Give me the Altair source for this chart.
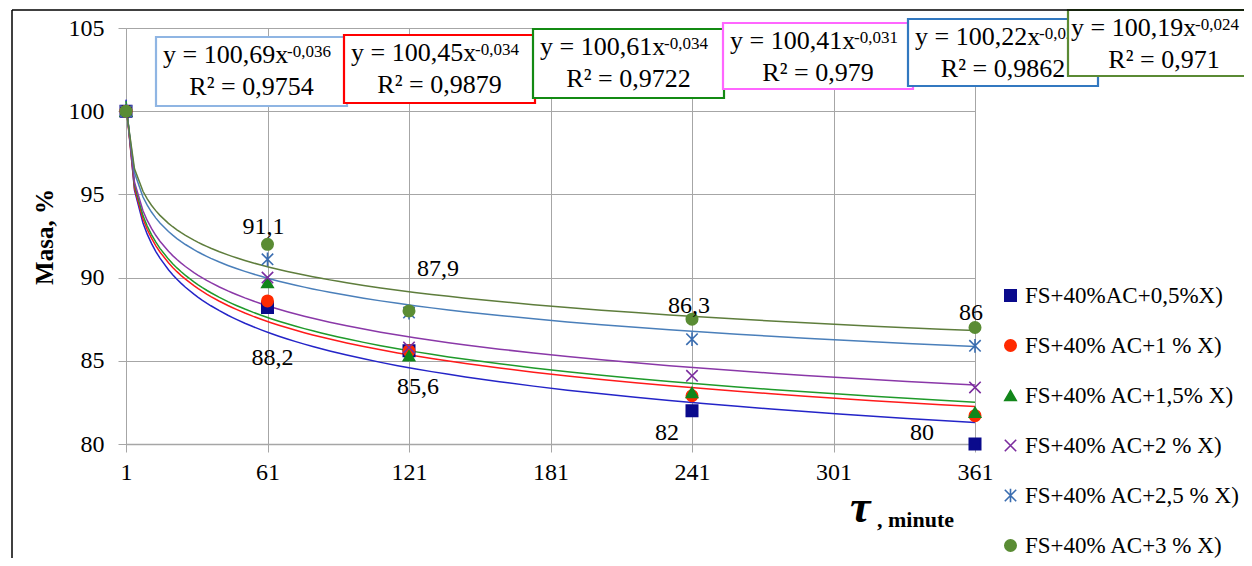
import altair as alt
import pandas as pd

# ---------------- data ----------------
series = ["FS+40%AC+0,5%X)", "FS+40% AC+1 % X)", "FS+40% AC+1,5% X)",
          "FS+40% AC+2 % X)", "FS+40% AC+2,5 % X)", "FS+40% AC+3 % X)"]
tau = [1, 61, 121, 241, 361]
mass_05 = [100, 88.2, 85.6, 82.0, 80.0]
mass_10 = [100, 88.6, 85.6, 82.9, 81.7]
mass_15 = [100, 89.7, 85.3, 83.1, 81.9]
mass_20 = [100, 90.0, 85.8, 84.1, 83.4]
mass_25 = [100, 91.1, 87.9, 86.3, 85.9]
mass_30 = [100, 92.0, 88.0, 87.5, 87.0]

x_ticks = [1, 61, 121, 181, 241, 301, 361]
y_ticks = [80, 85, 90, 95, 100, 105]

# data labels (value shown, anchored at a point)
label_tau = [61, 121, 241, 361, 61, 121, 241, 361]
label_mass = [91.1, 87.9, 86.3, 85.9, 88.2, 85.6, 82.0, 80.0]
label_text = ["91,1", "87,9", "86,3", "86", "88,2", "85,6", "82", "80"]

# trendline equations shown in boxes
eq_coef = ["100,69", "100,45", "100,61", "100,41", "100,22", "100,19"]
eq_exp = ["-0,036", "-0,034", "-0,034", "-0,031", "-0,026", "-0,024"]
eq_r2 = ["0,9754", "0,9879", "0,9722", "0,979", "0,9862", "0,971"]

# ---------------- styling ----------------
FONT = "Liberation Serif"
marker_colors = ["#0a0a8c", "#ff2a00", "#12861a", "#7b2c9e", "#3a6db0", "#5a8c34"]
line_colors = ["#2424c8", "#ff1a1a", "#1f9a2a", "#8a38a8", "#4a7fba", "#5e7d3c"]
shapes = ["square", "circle", "triangle-up",
          "M-1,-1L1,1M-1,1L1,-1",
          "M-1,-1L1,1M-1,1L1,-1M0,-1.2L0,1.2",
          "circle"]
box_colors = ["#8fb5e3", "#ff0000", "#138a13", "#ff66ff", "#3278c0", "#5a8a34"]
# box geometry in plot-area pixels (left, top, right, bottom)
box_geom = [(30, 9, 221, 78), (218, 7, 409, 75), (407, 1, 598, 70),
            (597, -5, 787, 61), (782, -9, 972, 58), (942, -18, 1134, 48)]
box_text_shift = [0, 0, 0, 0, 0, -4]
label_off = [(-4, -32), (29, -44), (-3, -33), (-4, -33),
             (5, 50), (9, 36), (-25, 22), (-53, -11)]

# ---------------- tables ----------------
all_mass = [mass_05, mass_10, mass_15, mass_20, mass_25, mass_30]
rows = []
for s, m in zip(series, all_mass):
    for t, v in zip(tau, m):
        rows.append({"series": s, "tau": t, "mass": v})
df = pd.DataFrame(rows)
one = pd.DataFrame({"k": [0]})

W, H = 849, 416
xscale = alt.Scale(domain=[1, 361], nice=False, zero=False)
yscale = alt.Scale(domain=[80, 105], nice=False, zero=False)

grid_col = "#a6a6a6"
xaxis = alt.Axis(values=x_ticks, title=None, grid=True, gridColor=grid_col,
                 domainColor=grid_col, domainWidth=1.5, tickColor=grid_col, tickSize=8,
                 labelFont=FONT, labelFontSize=24, labelColor="black",
                 labelPadding=8, labelFlush=False)
yaxis = alt.Axis(values=y_ticks, title=None, grid=True, gridColor=grid_col,
                 domainColor=grid_col, tickColor=grid_col, tickSize=8,
                 labelFont=FONT, labelFontSize=24, labelColor="black",
                 labelPadding=14)

X = alt.X("tau:Q", scale=xscale, axis=xaxis)
Y = alt.Y("mass:Q", scale=yscale, axis=yaxis)

trend = alt.Chart(df).transform_regression(
    "tau", "mass", method="pow", groupby=["series"]
).mark_line(strokeWidth=1.5).encode(
    x=alt.X("tau:Q", scale=xscale, axis=xaxis),
    y=alt.Y("mass:Q", scale=yscale, axis=yaxis),
    color=alt.Color("series:N", scale=alt.Scale(domain=series, range=line_colors), legend=None),
    detail="series:N",
)

leg = alt.Legend(title=None, orient="none", legendX=873, legendY=256,
                 labelFont=FONT, labelFontSize=23, labelColor="black",
                 symbolSize=130, symbolStrokeWidth=1.6, rowPadding=26,
                 labelOffset=3, labelLimit=400)
points = alt.Chart(df).mark_point(filled=True, strokeWidth=1.6, size=130, opacity=1).encode(
    x=X, y=Y,
    shape=alt.Shape("series:N", scale=alt.Scale(domain=series, range=shapes), legend=leg),
    fill=alt.Fill("series:N", scale=alt.Scale(domain=series, range=marker_colors), legend=leg),
    stroke=alt.Stroke("series:N", scale=alt.Scale(domain=series, range=marker_colors), legend=leg),
)

layers = [trend, points]

for t, v, txt, (dx, dy) in zip(label_tau, label_mass, label_text, label_off):
    ldf = pd.DataFrame({"tau": [t], "mass": [v], "txt": [txt]})
    layers.append(alt.Chart(ldf).mark_text(
        font=FONT, fontSize=24, color="black", dx=dx, dy=dy,
        align="center", baseline="middle").encode(x=X, y=Y, text="txt:N"))

# equation boxes
for i in range(6):
    l, t, r, b = box_geom[i]
    s = box_text_shift[i]
    layers.append(alt.Chart(one).mark_rect(fill="white", stroke=box_colors[i], strokeWidth=2.2).encode(
        x=alt.value(l), x2=alt.value(r), y=alt.value(t), y2=alt.value(b)))
    layers.append(alt.Chart(one).mark_text(
        text="y = " + eq_coef[i] + "x", font=FONT, fontSize=26, color="black",
        align="left", baseline="alphabetic").encode(x=alt.value(l + 7 + s), y=alt.value(t + 26)))
    layers.append(alt.Chart(one).mark_text(
        text=eq_exp[i], font=FONT, fontSize=17, color="black",
        align="left", baseline="alphabetic").encode(x=alt.value(l + 131 + s), y=alt.value(t + 20)))
    layers.append(alt.Chart(one).mark_text(
        text="R² = " + eq_r2[i], font=FONT, fontSize=26, color="black",
        align="center", baseline="alphabetic").encode(x=alt.value((l + r) / 2), y=alt.value(t + 58)))

# axis titles
layers.append(alt.Chart(one).mark_text(
    text="Masa, %", font=FONT, fontSize=25, fontWeight="bold", color="black",
    angle=270, align="center", baseline="middle").encode(x=alt.value(-81), y=alt.value(209)))
layers.append(alt.Chart(one).mark_text(
    text="τ", font=FONT, fontSize=46, fontWeight="bold", fontStyle="italic", color="black",
    align="left", baseline="alphabetic").encode(x=alt.value(724), y=alt.value(494)))
layers.append(alt.Chart(one).mark_text(
    text=", minute", font=FONT, fontSize=22, fontWeight="bold", color="black",
    align="left", baseline="alphabetic").encode(x=alt.value(751), y=alt.value(499)))

# outer chart frame (left and top edges)
layers.append(alt.Chart(one).mark_rule(color="black", strokeWidth=1.5).encode(
    x=alt.value(-114), y=alt.value(-18), y2=alt.value(540)))
layers.append(alt.Chart(one).mark_rule(color="black", strokeWidth=1.5).encode(
    x=alt.value(-114), x2=alt.value(1130), y=alt.value(-18)))

chart = alt.layer(*layers).resolve_scale(color="independent").properties(
    width=W, height=H,
    autosize=alt.AutoSizeParams(type="none"),
    padding={"left": 118, "top": 20, "right": 269, "bottom": 114},
    background="white",
).configure(font=FONT).configure_view(stroke=None).configure_legend(
    labelFont=FONT).configure_text(font=FONT)

chart.save("out.html", embed_options={"renderer": "svg", "actions": False})
